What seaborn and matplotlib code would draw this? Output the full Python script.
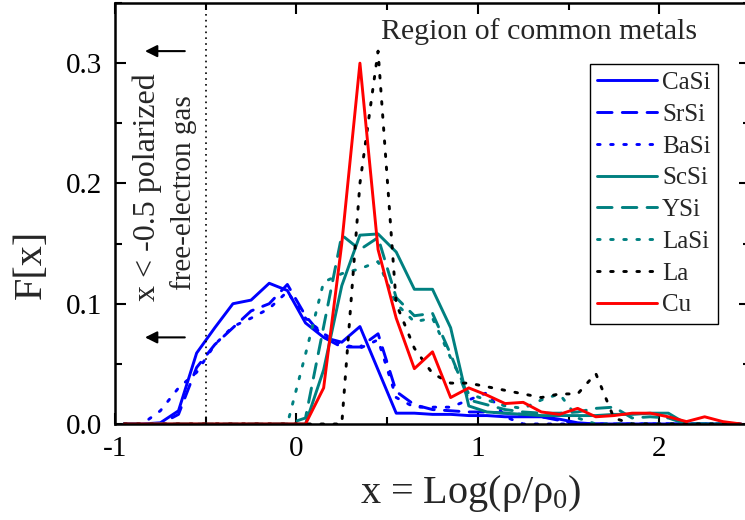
import matplotlib
matplotlib.use("Agg")
import matplotlib.pyplot as plt
import numpy as np
import pandas as pd
import seaborn as sns
from matplotlib.ticker import MultipleLocator, FormatStrFormatter

# grid of x = Log(rho/rho0) bin centres
x_vals = [-0.95, -0.85, -0.75, -0.65, -0.55, -0.45, -0.35, -0.25, -0.15, -0.05,
          0.05, 0.15, 0.25, 0.35, 0.45, 0.55, 0.65, 0.75, 0.85, 0.95,
          1.05, 1.15, 1.25, 1.35, 1.45, 1.55, 1.65, 1.75, 1.85, 1.95,
          2.05, 2.15, 2.25, 2.35, 2.45]

casi = [0, 0, 0.001, 0.011, 0.059, 0.080, 0.100, 0.103, 0.117, 0.111,
        0.084, 0.072, 0.068, 0.081, 0.045, 0.009, 0.009, 0.008, 0.008, 0.007,
        0.007, 0.006, 0.006, 0.006, 0.004, 0.001, 0, 0, 0, 0,
        0, 0, 0, 0, 0]
srsi = [0, 0, 0, 0.008, 0.047, 0.066, 0.080, 0.094, 0.100, 0.116,
        0.090, 0.072, 0.064, 0.064, 0.075, 0.027, 0.016, 0.012, 0.011, 0.010,
        0.010, 0.009, 0.008, 0.006, 0.003, 0, 0, 0, 0, 0,
        0, 0, 0, 0, 0]
basi = [0, 0, 0.011, 0.030, 0.043, 0.066, 0.081, 0.088, 0.096, 0.110,
        0.088, 0.075, 0.066, 0.063, 0.070, 0.022, 0.014, 0.014, 0.014, 0.020,
        0.026, 0.006, 0, 0, 0, 0, 0, 0, 0, 0,
        0, 0, 0, 0, 0]
scsi = [0, 0, 0, 0, 0, 0, 0, 0, 0, 0,
        0.0, 0.045, 0.115, 0.157, 0.158, 0.143, 0.112, 0.112, 0.080, 0.015,
        0.010, 0.009, 0.008, 0.007, 0.007, 0.007, 0.007, 0.008, 0.008, 0.009,
        0.009, 0, 0, 0, 0]
ysi = [0, 0, 0, 0, 0, 0, 0, 0, 0, 0,
       0.005, 0.081, 0.157, 0.145, 0.155, 0.105, 0.090, 0.092, 0.058, 0.020,
       0.016, 0.012, 0.010, 0.009, 0.009, 0.010, 0.013, 0.014, 0.005, 0.006,
       0.005, 0, 0, 0, 0]
lasi = [0, 0, 0, 0, 0, 0, 0, 0, 0, 0.0,
        0.058, 0.118, 0.125, 0.129, 0.135, 0.100, 0.085, 0.088, 0.055, 0.025,
        0.020, 0.015, 0.013, 0.020, 0.025, 0.005, 0, 0, 0, 0,
        0, 0, 0, 0, 0]
la = [0, 0, 0, 0, 0, 0, 0, 0, 0, 0,
      0, 0, 0.0, 0.200, 0.310, 0.100, 0.063, 0.042, 0.034, 0.034,
      0.031, 0.028, 0.025, 0.022, 0.025, 0.025, 0.042, 0.005, 0, 0,
      0, 0, 0, 0, 0]
cu = [0, 0, 0, 0, 0, 0, 0, 0, 0, 0,
      0.0, 0.030, 0.150, 0.300, 0.145, 0.088, 0.046, 0.060, 0.022, 0.030,
      0.024, 0.017, 0.018, 0.010, 0.008, 0.013, 0.006, 0.007, 0.009, 0.009,
      0.006, 0.002, 0.006, 0.002, 0]

names = ["CaSi", "SrSi", "BaSi", "ScSi", "YSi", "LaSi", "La", "Cu"]
series = [casi, srsi, basi, scsi, ysi, lasi, la, cu]

blue, teal = "#0000ff", "#008080"
colors = [blue, blue, blue, teal, teal, teal, "black", "#ff0000"]
dash = (0, (5, 3.5))
dot = (0, (0.9, 3.6))
styles = ["-", dash, dot, "-", dash, dot, dot, "-"]

sns.set_theme(style="ticks")
plt.rcParams["font.family"] = ["Liberation Serif", "DejaVu Serif"]
plt.rcParams["mathtext.fontset"] = "custom"
plt.rcParams["mathtext.rm"] = "Liberation Serif"
plt.rcParams["mathtext.it"] = "Liberation Serif:italic"
plt.rcParams["axes.unicode_minus"] = False

fig = plt.figure(figsize=(7.45, 5.2), dpi=100)
ax = fig.add_axes([115 / 745, 1 - 424 / 520, 635 / 745, 421 / 520])

for name, vals, c, ls in zip(names, series, colors, styles):
    df = pd.DataFrame({"x": x_vals, "F": vals})
    sns.lineplot(data=df, x="x", y="F", color=c, linestyle=ls, lw=2.1,
                 label=name, ax=ax, dash_capstyle="round")

ax.axvline(-0.5, color="black", lw=1.2, ls=(0, (1, 2.5)))

ax.set_xlim(-1, 2.5)
ax.set_ylim(0, 0.35)
ax.xaxis.set_major_locator(MultipleLocator(1))
ax.xaxis.set_minor_locator(MultipleLocator(0.5))
ax.xaxis.set_major_formatter(FormatStrFormatter("%d"))
ax.yaxis.set_major_locator(MultipleLocator(0.1))
ax.yaxis.set_minor_locator(MultipleLocator(0.05))
ax.yaxis.set_major_formatter(FormatStrFormatter("%.1f"))
ax.tick_params(which="both", direction="in", top=True, right=True,
               width=1.5, labelsize=21, colors="black")
ax.tick_params(which="major", length=8, pad=9)
ax.tick_params(which="minor", length=5)
for sp in ax.spines.values():
    sp.set_linewidth(1.8)
    sp.set_color("black")

ax.set_xlabel("x = Log(ρ/ρ$_0$)", fontsize=29, va="center", ha="center")
ax.xaxis.set_label_coords(0.56, -0.164)
ax.set_ylabel("F[x]", fontsize=29, va="center", ha="center")
ax.yaxis.set_label_coords(-0.131, 0.38)

ax.text(0.466, 0.326, "Region of common metals", fontsize=21.5,
        ha="left", va="center")
ax.text(-0.82, 0.197, "x < -0.5 polarized", fontsize=23, rotation=90,
        ha="center", va="center")
ax.text(-0.625, 0.192, "free-electron gas", fontsize=21, rotation=90,
        ha="center", va="center")
for yy in [0.31, 0.072]:
    ax.annotate("", xy=(-0.85, yy), xytext=(-0.6, yy),
                arrowprops=dict(arrowstyle="-|>", color="black", lw=1.5,
                                mutation_scale=18))

leg = ax.legend(loc="upper right", bbox_to_anchor=(0.95, 0.855),
                borderaxespad=0, fontsize=18, handlelength=2.4,
                handletextpad=0.2, labelspacing=0.37, borderpad=0.3,
                fancybox=False, framealpha=1, edgecolor="black")
leg.get_frame().set_linewidth(1.0)

fig.savefig("out.png", dpi=100)
